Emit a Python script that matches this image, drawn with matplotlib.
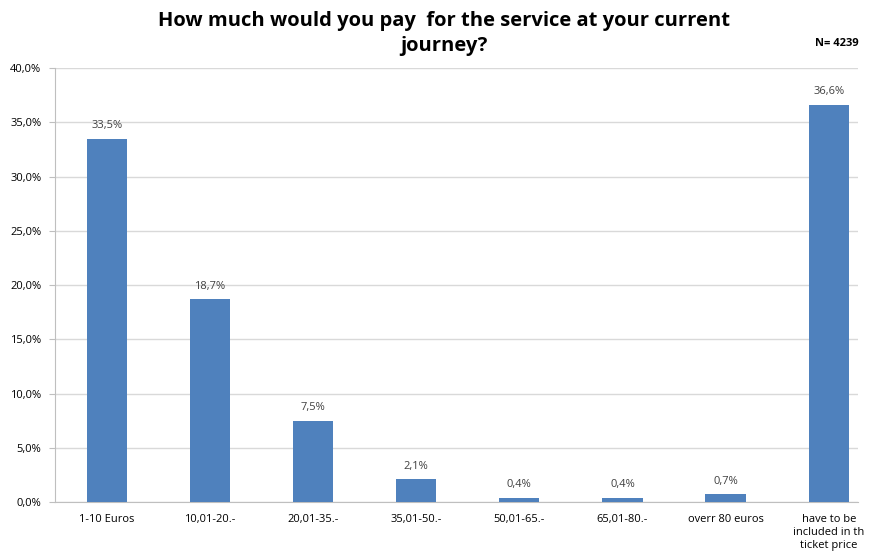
import numpy as np
import matplotlib.pyplot as plt

categories = ["1-10 Euros", "10,01-20.-", "20,01-35.-", "35,01-50.-", "50,01-65.-",
              "65,01-80.-", "overr 80 euros", "have to be\nincluded in th\nticket price"]
values = [33.5, 18.7, 7.5, 2.1, 0.4, 0.4, 0.7, 36.6]
yticks = [0, 5, 10, 15, 20, 25, 30, 35, 40]

plt.rcParams['font.family'] = ['Open Sans', 'DejaVu Sans']

fig = plt.figure(figsize=(8.76, 5.59), dpi=100)
ax = fig.add_axes([0.063, 0.102, 0.916, 0.776])

x = np.arange(len(categories))
ax.bar(x, values, width=0.39, color="#4F81BD", zorder=3)
for xi, v in zip(x, values):
  ax.text(xi, v + 0.7, ("%.1f%%" % v).replace(".", ","), ha="center", va="bottom",
          fontsize=8, color="#404040")

ax.set_xlim(-0.5, 7.28)
ax.set_ylim(0, 40)
ax.set_yticks(yticks)
ax.set_yticklabels([("%.1f%%" % t).replace(".", ",") for t in yticks], fontsize=8)
ax.set_xticks(x)
ax.set_xticklabels(categories, fontsize=8, va="top")
ax.tick_params(axis="x", length=0, pad=9)
ax.tick_params(axis="y", length=4, color="#bfbfbf", pad=6)
ax.grid(axis="y", color="#d9d9d9", linewidth=1, zorder=0)
for s in ["top", "right"]:
  ax.spines[s].set_visible(False)
ax.spines["left"].set_color("#bfbfbf")
ax.spines["bottom"].set_color("#bfbfbf")

fig.text(0.507, 0.98, "How much would you pay  for the service at your current\njourney?",
         ha="center", va="top", fontsize=14.5, fontweight="bold", linespacing=1.3)
fig.text(0.955, 0.922, "N= 4239", ha="center", va="center", fontsize=8, fontweight="bold")

fig.savefig("out.png", dpi=100)
